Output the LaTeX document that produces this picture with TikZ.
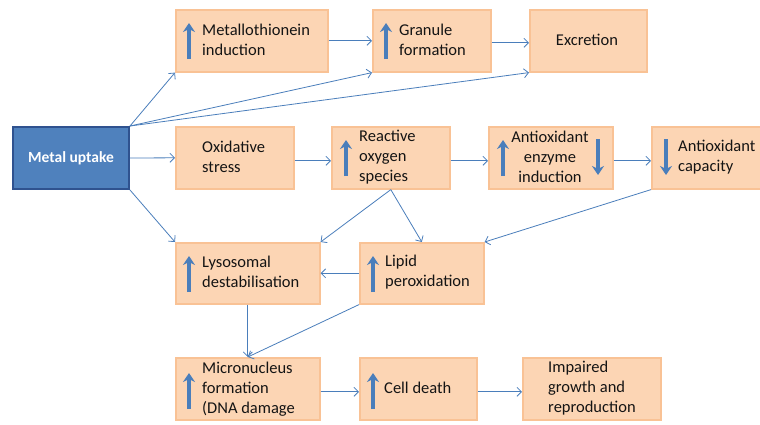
\documentclass[tikz,border=0pt]{standalone}
\usepackage{fontspec}
\setmainfont{Carlito}
\usetikzlibrary{arrows.meta}
\definecolor{peach}{HTML}{FCD5B4}
\definecolor{peachline}{HTML}{F9C295}
\definecolor{mblue}{HTML}{4F81BD}
\definecolor{mbord}{HTML}{2F528F}
\definecolor{conn}{HTML}{4A7EBB}
\definecolor{inarr}{HTML}{4A7EBB}
\begin{document}
\begin{tikzpicture}[x=1pt,y=-1pt,
  box/.style={draw=peachline,fill=peach,line width=1.6pt,anchor=north west,inner sep=0pt},
  mainbox/.style={draw=mbord,fill=mblue,line width=2pt,anchor=north west,inner sep=0pt},
  txt/.style={align=left,inner sep=0pt,text=black!92,font=\fontsize{16.5}{20}\selectfont},
  ctxt/.style={align=center,inner sep=0pt,text=black!92,font=\fontsize{16.5}{20}\selectfont},
  conn/.style={draw=conn,line width=0.8pt,-{Straight Barb[length=4.5pt,width=9pt,line width=0.8pt]}},
  uparr/.style={draw=inarr,line width=3.6pt,-{Stealth[length=9pt,width=12pt,inset=3pt]}}
]
\useasboundingbox (0,0) rectangle (760,424);
\fill[white] (0,0) rectangle (760,424);

% boxes
\node[mainbox,minimum width=116pt,minimum height=62pt] (mu) at (12,126) {};
\node[box,minimum width=152pt,minimum height=62pt] (mt) at (175,9) {};
\node[box,minimum width=118pt,minimum height=62pt] (gr) at (372,9) {};
\node[box,minimum width=117pt,minimum height=62pt] (ex) at (529,9) {};
\node[box,minimum width=118pt,minimum height=62pt] (ox) at (175,126) {};
\node[box,minimum width=118pt,minimum height=62pt] (ros) at (331,126) {};
\node[box,minimum width=124pt,minimum height=62pt] (aei) at (488,126) {};
\node[box,minimum width=120pt,minimum height=62pt] (ac) at (651,126) {};
\node[box,minimum width=144pt,minimum height=61pt] (lys) at (175,242) {};
\node[box,minimum width=124pt,minimum height=61pt] (lip) at (359,242) {};
\node[box,minimum width=144pt,minimum height=62pt] (mic) at (175,357) {};
\node[box,minimum width=117pt,minimum height=62pt] (cd) at (359,357) {};
\node[box,minimum width=138pt,minimum height=62pt] (imp) at (522,357) {};

% texts
\node[inner sep=0pt,text=white,font=\fontsize{15.5}{19}\selectfont\bfseries] (mut) at (mu.center) {Metal uptake};
\node[txt,anchor=west] (mtt) at (202,40) {Metallothionein\\induction};
\node[txt,anchor=west] (grt) at (399,40) {Granule\\formation};
\node[ctxt] (ext) at (587,40) {Excretion};
\node[txt,anchor=west] (oxt) at (202,157) {Oxidative\\stress};
\node[txt,anchor=west] (rost) at (359,157) {Reactive\\oxygen\\species};
\node[ctxt] (aeit) at (550,157) {Antioxidant\\enzyme\\induction};
\node[txt,anchor=west] (act) at (678,157) {Antioxidant\\capacity};
\node[txt,anchor=west] (lyst) at (202,272) {Lysosomal\\destabilisation};
\node[txt,anchor=west] (lipt) at (385,272) {Lipid\\peroxidation};
\node[txt,anchor=west] (mict) at (202,389) {Micronucleus\\formation\\(DNA damage};
\node[txt,anchor=west] (cdt) at (384,388) {Cell death};
\node[txt,anchor=west] (impt) at (548,388) {Impaired\\growth and\\reproduction};

% up / down arrows inside boxes
\draw[uparr] (189,59) -- (189,23);
\draw[uparr] (386,59) -- (386,23);
\draw[uparr] (346,176) -- (346,140);
\draw[uparr] (503,176) -- (503,140);
\draw[uparr] (598,139) -- (598,175);
\draw[uparr] (666,139) -- (666,175);
\draw[uparr] (189,292) -- (189,256);
\draw[uparr] (373,292) -- (373,256);
\draw[uparr] (189,409) -- (189,373);
\draw[uparr] (373,409) -- (373,373);

% connectors
\draw[conn] (mu.north east) -- (mt.south west);
\draw[conn] (mu.north east) -- (gr.south west);
\draw[conn] (mu.north east) -- (ex.south west);
\draw[conn] (mu.east) -- (ox.west);
\draw[conn] (mu.south east) -- (lys.north west);
\draw[conn] (mt.east) -- (gr.west);
\draw[conn] ([yshift=-2pt]gr.east) -- ([yshift=-2pt]ex.west);
\draw[conn] ([yshift=-3pt]ox.east) -- ([yshift=-3pt]ros.west);
\draw[conn] ([yshift=-3pt]ros.east) -- ([yshift=-3pt]aei.west);
\draw[conn] ([yshift=-3pt]aei.east) -- ([yshift=-3pt]ac.west);
\draw[conn] (ros.south) -- (lys.north east);
\draw[conn] (ros.south) -- (lip.north);
\draw[conn] (ac.south west) -- (lip.north east);
\draw[conn] (lip.west) -- (lys.east);
\draw[conn] (lys.south) -- (mic.north);
\draw[conn] (lip.south west) -- (mic.north);
\draw[conn] ([yshift=-3pt]mic.east) -- ([yshift=-3pt]cd.west);
\draw[conn] ([yshift=-3pt]cd.east) -- ([yshift=-3pt]imp.west);
\end{tikzpicture}
\end{document}
